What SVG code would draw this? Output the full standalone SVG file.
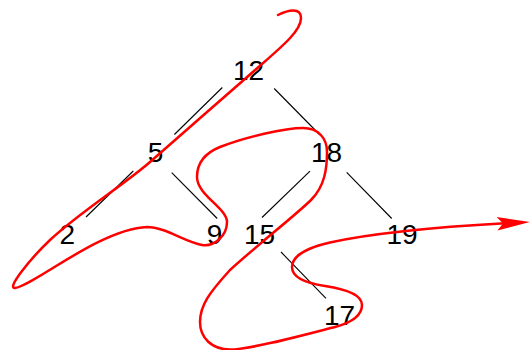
<svg xmlns="http://www.w3.org/2000/svg" width="531" height="350" viewBox="0 0 531 350">
<style>
.lbl{font-family:"Liberation Sans",Arial,Helvetica,sans-serif;font-size:28px;fill:#000;text-anchor:middle}
.edge{stroke:#000;stroke-width:1.1;fill:none}
.red{stroke:#ff0000;stroke-width:2.5;fill:none;stroke-linecap:round;stroke-linejoin:round}
</style>
<defs>
<marker id="arr" markerUnits="userSpaceOnUse" orient="auto" markerWidth="40" markerHeight="20" viewBox="-10 -10 40 20" refX="0" refY="0" overflow="visible">
<path d="M25,0 L-8,-6.7 L-2,0 L-8,6.7 Z" fill="#ff0000"/>
</marker>
</defs>
<rect width="531" height="350" fill="#fff"/>
<g id="connectors">
<line class="edge" x1="222.3" y1="87.5" x2="174.4" y2="134.5"/>
<line class="edge" x1="274.2" y1="88.5" x2="320" y2="135"/>
<line class="edge" x1="133.3" y1="171" x2="86" y2="217"/>
<line class="edge" x1="171.7" y1="172.7" x2="217.2" y2="218.5"/>
<line class="edge" x1="310" y1="171.2" x2="262" y2="217.5"/>
<line class="edge" x1="346.7" y1="172.3" x2="391.7" y2="218.5"/>
<line class="edge" x1="281" y1="252" x2="326" y2="298.3"/>
</g>
<g id="node-12"><text class="lbl" x="248.5" y="79.5">12</text></g>
<g id="node-5"><text class="lbl" x="155.5" y="162">5</text></g>
<g id="node-18"><text class="lbl" x="326.5" y="162">18</text></g>
<g id="node-2"><text class="lbl" x="67.3" y="244">2</text></g>
<g id="node-9"><text class="lbl" x="214.5" y="244">9</text></g>
<g id="node-15"><text class="lbl" x="259.5" y="244">15</text></g>
<g id="node-19"><text class="lbl" x="402" y="244">19</text></g>
<g id="node-17"><text class="lbl" x="339.5" y="325">17</text></g>
<g id="curve">
<path class="red" marker-end="url(#arr)" d="M278,15 C288,10 301,7 301,18 C301,30 285,44 262,64 C230,92 185,131 150,162 C125,184 80,212 50,240 C30,259 6,289 15,288 C33,286 100,229 147,227 C165,227 185,242 202,245 C214,247 227,236 227,222 C227,208 197,195 197,177 C197,162 205,153 220,147 C245,137 285,128 303,128 C318,128 327,138 327,152 C327,168 325,186 311,200 C297,214 255,247 230,270 C210,292 200,305 200,322 C200,338 212,349.5 230,349.5 C250,349.5 300,336 335,327 C350,323 362,316 362,305 C362,295 345,289 325,286 C305,283 292,277 292,267 C292,255 310,247 330,242.5 C360,236 420,228 505,223.3"/>
</g>
</svg>
